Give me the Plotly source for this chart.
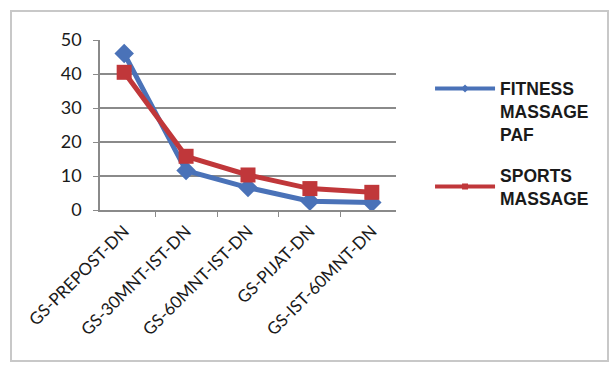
import plotly.graph_objects as go

categories = ["GS-PREPOST-DN", "GS-30MNT-IST-DN", "GS-60MNT-IST-DN", "GS-PIJAT-DN", "GS-IST-60MNT-DN"]
fitness_paf = [46, 11.6, 6.6, 2.6, 2.2]
sports_massage = [40.5, 15.8, 10.3, 6.3, 5.2]
y_ticks = [0, 10, 20, 30, 40, 50]

BLUE = "#4a72b8"
RED = "#c0373a"
GRID = "#8a8a8a"
TICK_FONT = dict(family="Lato, Open Sans, sans-serif", size=18, color="#1a1a1a")

fig = go.Figure()
fig.add_trace(go.Scatter(
    x=categories, y=fitness_paf, mode="lines+markers",
    line=dict(color=BLUE, width=5),
    marker=dict(symbol="diamond", size=15, color=BLUE),
    showlegend=False,
))
fig.add_trace(go.Scatter(
    x=categories, y=sports_massage, mode="lines+markers",
    line=dict(color=RED, width=5),
    marker=dict(symbol="square", size=15, color=RED),
    showlegend=False,
))

# legend entries: thick line with a small marker, as in the series key
fig.add_trace(go.Scatter(
    x=[None], y=[None], mode="lines+markers",
    name="FITNESS<br>MASSAGE<br>PAF",
    line=dict(color=BLUE, width=4),
    marker=dict(symbol="diamond", size=6, color=BLUE),
    legend="legend",
))
fig.add_trace(go.Scatter(
    x=[None], y=[None], mode="lines+markers",
    name="SPORTS<br>MASSAGE",
    line=dict(color=RED, width=4),
    marker=dict(symbol="square", size=6, color=RED),
    legend="legend2",
))

legend_font = dict(family="Liberation Sans, Arial, sans-serif", size=17.5, weight="bold", color="#1a1a1a")
fig.update_layout(
    width=610, height=367,
    margin=dict(l=100, r=214, t=40, b=157),
    paper_bgcolor="white", plot_bgcolor="white",
    showlegend=True,
    legend=dict(x=1.115, y=0.82, xanchor="left", yanchor="top", valign="top",
                font=legend_font, itemwidth=60, bgcolor="rgba(0,0,0,0)"),
    legend2=dict(x=1.115, y=0.31, xanchor="left", yanchor="top", valign="middle",
                 font=legend_font, itemwidth=60, bgcolor="rgba(0,0,0,0)"),
    xaxis=dict(
        type="category", tickangle=-45, tickfont=dict(TICK_FONT, size=17),
        showline=True, linecolor=GRID, linewidth=1.5,
        ticks="outside", tickson="boundaries", ticklen=5, tickcolor=GRID,
        ticklabelstandoff=3,
        showgrid=False, zeroline=False,
    ),
    yaxis=dict(
        range=[0, 50], tickvals=y_ticks, tickfont=TICK_FONT,
        showline=True, linecolor=GRID, linewidth=1.5,
        ticks="outside", ticklen=5, tickcolor=GRID,
        ticklabelstandoff=8,
        showgrid=True, gridcolor=GRID, gridwidth=1.5, zeroline=False,
    ),
    shapes=[dict(
        type="rect", xref="paper", yref="paper",
        x0=-89 / 296, x1=(608 - 100) / 296, y0=-(361 - 210) / 170, y1=(210 - 11) / 170,
        line=dict(color="#c8c8c8", width=2), fillcolor="rgba(0,0,0,0)", layer="below",
    )],
)

fig.write_html("out.html")
